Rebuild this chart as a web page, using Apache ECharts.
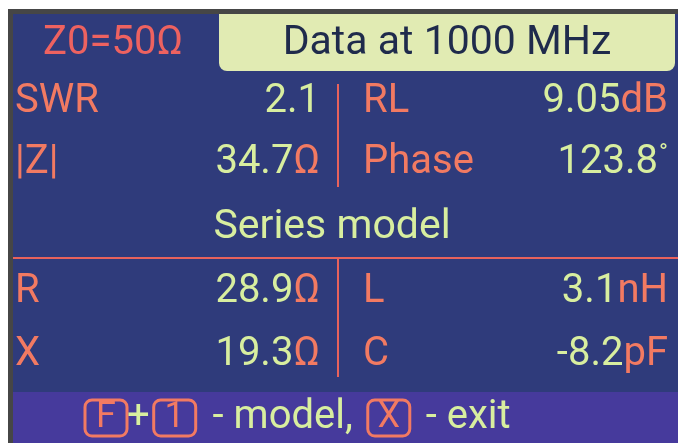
<!DOCTYPE html>
<html><head><meta charset="utf-8">
<script src="https://cdn.jsdelivr.net/npm/echarts@6/dist/echarts.min.js"></script>
<style>html,body{margin:0;padding:0;background:#fff}#c{width:678px;height:443px}</style>
</head><body><div id="c"></div>
<script>
const impedanceLabel = "Z0=50Ω";
const headerText = "Data at 1000 MHz";
const leftLabels = ["SWR", "|Z|"];
const leftValues = ["2.1", "34.7"];
const leftUnits = ["", "Ω"];
const rightLabels = ["RL", "Phase"];
const rightValues = ["9.05", "123.8"];
const rightUnits = ["dB", "°"];
const modelTitle = "Series model";
const modelLeftLabels = ["R", "X"];
const modelLeftValues = ["28.9", "19.3"];
const modelLeftUnits = ["Ω", "Ω"];
const modelRightLabels = ["L", "C"];
const modelRightValues = ["3.1", "-8.2"];
const modelRightUnits = ["nH", "pF"];
const footerParts = [["key", "F"], ["txt", "+"], ["g4", " "], ["key", "1"], ["g7", " "], ["txt", " - model, "], ["g5", " "], ["key", "X"], ["g6", " "], ["txt", " - exit"]];

const FONT = "Roboto";
const FS = 40;
const C_BG = "#2f3b7b", C_FOOT = "#463a9c", C_BORDER = "#464646";
const C_LABEL = "#f27a62", C_Z0 = "#ee6260", C_VAL = "#d8ee9f";
const C_HEAD_BG = "#e1ebb3", C_HEAD_TX = "#1f2b4c", C_LINE = "#e8625c";

const rich = {
  v: { fill: C_VAL, fontSize: FS, fontFamily: FONT },
  u: { fill: C_LABEL, fontSize: FS, fontFamily: FONT },
  d: { fill: C_VAL, fontSize: 24, fontFamily: FONT, verticalAlign: 'top', padding: [0, 0, 18, 1] }
};
function valText(v, u) {
  let s = '{v|' + v + '}';
  if (u === '°') s += '{d|' + u + '}';
  else if (u) s += '{u|' + u + '}';
  return s;
}
function txt(x, y, text, fill, align, extra) {
  return {
    type: 'text', x: x, y: y, silent: true,
    style: Object.assign({ text: text, fill: fill, fontSize: FS, fontFamily: FONT, align: align || 'left', verticalAlign: 'middle', rich: rich }, extra || {})
  };
}

const els = [];
els.push({ type: 'rect', shape: { x: 0, y: 0, width: 678, height: 443 }, style: { fill: '#ffffff' } });
els.push({ type: 'rect', shape: { x: 8, y: 9, width: 670, height: 434 }, style: { fill: C_BORDER } });
els.push({ type: 'rect', shape: { x: 13, y: 14, width: 665, height: 429 }, style: { fill: C_BG } });
els.push({ type: 'rect', shape: { x: 13, y: 392, width: 665, height: 51 }, style: { fill: C_FOOT } });
els.push({ type: 'rect', shape: { x: 219, y: 14, width: 456, height: 57, r: [0, 0, 8, 8] }, style: { fill: C_HEAD_BG } });
els.push(txt(113, 44, impedanceLabel, C_Z0, 'center'));
els.push(txt(447, 44, headerText, C_HEAD_TX, 'center', { fontSize: 41 }));

const rowY = [102, 163];
const modelRowY = [292, 355];
leftLabels.forEach((l, i) => {
  els.push(txt(15, rowY[i], l, C_LABEL, 'left'));
  els.push(txt(320, rowY[i], valText(leftValues[i], leftUnits[i]), C_VAL, 'right'));
  els.push(txt(363, rowY[i], rightLabels[i], C_LABEL, 'left'));
  els.push(txt(668, rowY[i], valText(rightValues[i], rightUnits[i]), C_VAL, 'right'));
});
els.push(txt(332, 228, modelTitle, C_VAL, 'center', { fontSize: 41 }));
modelLeftLabels.forEach((l, i) => {
  els.push(txt(15, modelRowY[i], l, C_LABEL, 'left'));
  els.push(txt(320, modelRowY[i], valText(modelLeftValues[i], modelLeftUnits[i]), C_VAL, 'right'));
  els.push(txt(363, modelRowY[i], modelRightLabels[i], C_LABEL, 'left'));
  els.push(txt(668, modelRowY[i], valText(modelRightValues[i], modelRightUnits[i]), C_VAL, 'right'));
});
els.push({ type: 'line', shape: { x1: 338, y1: 84, x2: 338, y2: 187 }, style: { stroke: C_LINE, lineWidth: 2 } });
els.push({ type: 'line', shape: { x1: 13, y1: 258, x2: 678, y2: 258 }, style: { stroke: C_LINE, lineWidth: 2 } });
els.push({ type: 'line', shape: { x1: 338, y1: 258, x2: 338, y2: 377 }, style: { stroke: C_LINE, lineWidth: 2 } });

const footRich = {
  key: { fill: C_LABEL, fontSize: 36, fontFamily: FONT, borderColor: C_LABEL, borderWidth: 3, borderRadius: 7, width: 42, height: 36, align: 'center', lineHeight: 36 },
  g4: { fontSize: FS, width: 4 },
  g5: { fontSize: FS, width: 5 },
  g6: { fontSize: FS, width: 6 },
  g7: { fontSize: FS, width: 7 },
  txt: { fill: C_VAL, fontSize: FS, fontFamily: FONT }
};
const footStr = footerParts.map(p => '{' + p[0] + '|' + p[1] + '}').join('');
els.push({ type: 'text', x: 85, y: 418, silent: true, style: { text: footStr, rich: footRich, fontSize: FS, fontFamily: FONT, align: 'left', verticalAlign: 'middle', fill: C_VAL } });

const chart = echarts.init(document.getElementById('c'), null, { renderer: 'canvas' });
chart.setOption({ backgroundColor: '#ffffff', animation: false, graphic: { elements: els } });
</script>
</body></html>
